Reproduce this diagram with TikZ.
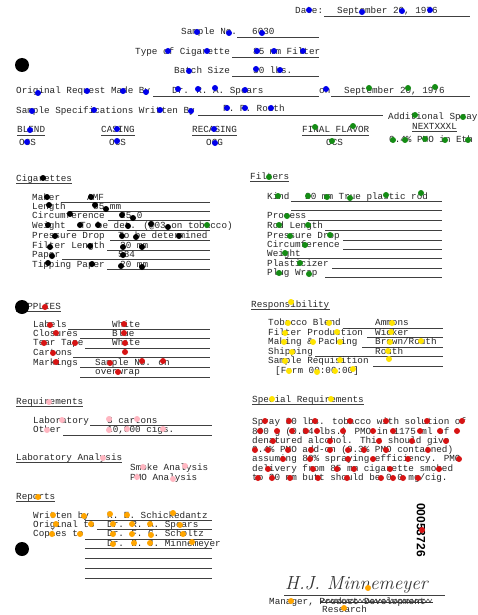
\documentclass[tikz,border=0pt]{standalone}
\usepackage{fontspec}
\usepackage{tikz}
\newfontfamily\typewr{Liberation Mono}
\newfontfamily\stampfont{Liberation Sans}
\definecolor{dotblue}{RGB}{0,0,235}
\definecolor{dotgreen}{RGB}{20,140,20}
\definecolor{dotred}{RGB}{215,20,20}
\definecolor{dotyellow}{RGB}{255,228,0}
\definecolor{dotpink}{RGB}{255,182,193}
\definecolor{dotorange}{RGB}{255,165,0}

\begin{document}
\begin{tikzpicture}[x=1pt,y=-1pt,
    txt/.style={anchor=base west,inner sep=0pt,text=black!85,font=\typewr\fontsize{9.3}{10}\selectfont},
    uline/.style={line width=0.6pt,black!75}]
            \clip (0,0) rectangle (477,615);
            \fill[white] (0,0) rectangle (477,615);

            % Heading block
            \draw (295,14) node [txt] (date) {Date:};%
            \draw (337,14) node [txt] (dateval) {September 20, 1976};%
            \draw [uline] (324,16.5) -- (470,16.5);%
            \draw (181,35) node [txt] (sampno) {Sample No.};%
            \draw (252,35) node [txt] (sampval) {6030};%
            \draw [uline] (237,37.5) -- (319,37.5);%
            \draw (135,54.5) node [txt] (cigtype) {Type of Cigarette};%
            \draw (253,54.5) node [txt] (cigval) {85 mm Filter};%
            \draw [uline] (232,57) -- (319,57);%
            \draw (174,73.5) node [txt] (batch) {Batch Size};%
            \draw (253,73.5) node [txt] (batchval) {30 lbs.};%
            \draw [uline] (232,76) -- (319,76);%
            \draw (16,93.5) node [txt] (origreq) {Original Request Made By};%
            \draw (172,93.5) node [txt] (origby) {Dr. R. A. Spears};%
            \draw [uline] (153,96) -- (319,96);%
            \draw (319,93.5) node [txt] (origon) {on};%
            \draw (344,93.5) node [txt] (origdate) {September 20, 1976};%
            \draw [uline] (331,96) -- (470,96);%
            \draw (16,113.5) node [txt] (specby) {Sample Specifications Written By};%
            \draw (223,111) node [txt] (specval) {R. R. Routh};%
            \draw [uline] (198,115.5) -- (383,115.5);%

            % Additional spray
            \draw (388,119.5) node [txt] (addspray) {Additional Spray};%
            \draw (412,129.5) node [txt] (addxx) {NEXTXXXL};%
            \draw [uline] ([yshift=-2pt]addxx.base west) -- ([yshift=-2pt]addxx.base east);%
            \draw (389,142.5) node [txt] (addsol) {0.4\% PMO in Eth};%

            % Blend, casing, flavor
            \draw (17,132.5) node [txt] (blend) {BLEND};%
            \draw (19,145) node [txt] (blendv) {OCS};%
            \draw (101,132.5) node [txt] (casing) {CASING};%
            \draw (109,145) node [txt] (casingv) {OCS};%
            \draw (192,132.5) node [txt] (recasing) {RECASING};%
            \draw (206,145) node [txt] (recasingv) {OCG};%
            \draw (302,132.5) node [txt] (flavor) {FINAL FLAVOR};%
            \draw (326,145) node [txt] (flavorv) {OCS};%
            \foreach \n in {blend,casing,recasing,flavor}
              \draw [uline] ([yshift=-2.5pt]\n.base west) -- ([yshift=-2.5pt]\n.base east);%

            % Cigarettes
            \draw (16,181) node [txt] (cigs) {Cigarettes};%
            \draw [uline] ([yshift=-2.5pt]cigs.base west) -- ([yshift=-2.5pt]cigs.base east);%
            \draw (32,200) node [txt] (maker) {Maker};%
            \draw (87,200) node [txt] (makerv) {AMF};%
            \draw [uline] (61,202.5) -- (210,202.5);%
            \draw (32,209) node [txt] (length) {Length};%
            \draw (93,209) node [txt] (lengthv) {85 mm};%
            \draw [uline] (70,211.5) -- (210,211.5);%
            \draw (32,218) node [txt] (circ) {Circumference};%
            \draw (120,218) node [txt] (circv) {25.0};%
            \draw [uline] (108,220.5) -- (210,220.5);%
            \draw (32,228) node [txt] (weight) {Weight};%
            \draw (80,228) node [txt] (weightv) {To be det. (@03 on tobacco)};%
            \draw [uline] (67,230.5) -- (210,230.5);%
            \draw (32,238) node [txt] (pdrop) {Pressure Drop};%
            \draw (118,238) node [txt] (pdropv) {To be determined};%
            \draw [uline] (110,240.5) -- (210,240.5);%
            \draw (32,248) node [txt] (flen) {Filter Length};%
            \draw (120,248) node [txt] (flenv) {20 mm};%
            \draw [uline] (107,250.5) -- (210,250.5);%
            \draw (32,257) node [txt] (paper) {Paper};%
            \draw (118,257) node [txt] (paperv) {584};%
            \draw [uline] (62,259.5) -- (210,259.5);%
            \draw (32,267) node [txt] (tipping) {Tipping Paper};%
            \draw (120,267) node [txt] (tippingv) {20 mm};%
            \draw [uline] (107,269.5) -- (210,269.5);%

            % Filters
            \draw (250,179) node [txt] (filters) {Filters};%
            \draw [uline] ([yshift=-2.5pt]filters.base west) -- ([yshift=-2.5pt]filters.base east);%
            \draw (267,199) node [txt] (kind) {Kind};%
            \draw (305,199) node [txt] (kindv) {20 mm True plastic rod};%
            \draw [uline] (291,201.5) -- (442,201.5);%
            \draw [uline] (291,210.5) -- (442,210.5);%
            \draw (267,218.5) node [txt] (process) {Process};%
            \draw [uline] (308,220.5) -- (442,220.5);%
            \draw (267,228) node [txt] (rodlen) {Rod Length};%
            \draw [uline] (325,230) -- (442,230);%
            \draw (267,238) node [txt] (fpdrop) {Pressure Drop};%
            \draw [uline] (343,240) -- (442,240);%
            \draw (267,247) node [txt] (fcirc) {Circumference};%
            \draw [uline] (343,249) -- (442,249);%
            \draw (267,256.5) node [txt] (fweight) {Weight};%
            \draw [uline] (285,258.5) -- (442,258.5);%
            \draw (267,266) node [txt] (plast) {Plasticizer};%
            \draw [uline] (332,268) -- (442,268);%
            \draw (267,275.5) node [txt] (plug) {Plug Wrap};%
            \draw [uline] (325,277.5) -- (442,277.5);%

            % Supplies
            \draw (16,309) node [txt] (supplies) {SUPPLIES};%
            \draw [uline] ([yshift=-2.5pt]supplies.base west) -- ([yshift=-2.5pt]supplies.base east);%
            \draw (33,327) node [txt] (labels) {Labels};%
            \draw (112,327) node [txt] (labelsv) {White};%
            \draw [uline] (68,329.5) -- (210,329.5);%
            \draw (33,336) node [txt] (closures) {Closures};%
            \draw (112,336) node [txt] (closuresv) {Blue};%
            \draw [uline] (80,338.5) -- (210,338.5);%
            \draw (33,345.5) node [txt] (tear) {Tear Tape};%
            \draw (112,345.5) node [txt] (tearv) {White};%
            \draw [uline] (85,348) -- (210,348);%
            \draw (33,355) node [txt] (cartons) {Cartons};%
            \draw [uline] (73,357.5) -- (210,357.5);%
            \draw (33,365) node [txt] (markings) {Markings};%
            \draw (95,365) node [txt] (markingsv) {Sample No. on};%
            \draw [uline] (80,367.5) -- (210,367.5);%
            \draw (95,374.5) node [txt] (overwrap) {overwrap};%
            \draw [uline] (80,377.5) -- (210,377.5);%

            % Responsibility
            \draw (251,307) node [txt] (resp) {Responsibility};%
            \draw [uline] ([yshift=-2.5pt]resp.base west) -- ([yshift=-2.5pt]resp.base east);%
            \draw (268,325.5) node [txt] (tobblend) {Tobacco Blend};%
            \draw (375,325.5) node [txt] (tobblendv) {Ammons};%
            \draw [uline] (343,328) -- (443,328);%
            \draw (268,335) node [txt] (filprod) {Filter Production};%
            \draw (375,335) node [txt] (filprodv) {Wicker};%
            \draw [uline] (367,337.5) -- (443,337.5);%
            \draw (268,344.5) node [txt] (making) {Making \& Packing};%
            \draw (375,344.5) node [txt] (makingv) {Brown/Routh};%
            \draw [uline] (362,347) -- (443,347);%
            \draw (268,354) node [txt] (shipping) {Shipping};%
            \draw (375,354) node [txt] (shippingv) {Routh};%
            \draw [uline] (315,356.5) -- (443,356.5);%
            \draw (268,363.5) node [txt] (sampreq) {Sample Requisition};%
            \draw [uline] (373,366) -- (443,366);%
            \draw (275,373.5) node [txt] (form) {[Form 00:00:00]};%

            % Requirements
            \draw (16,404) node [txt] (reqs) {Requirements};%
            \draw [uline] ([yshift=-2.5pt]reqs.base west) -- ([yshift=-2.5pt]reqs.base east);%
            \draw (33,423) node [txt] (lab) {Laboratory};%
            \draw (107,423) node [txt] (labv) {3 cartons};%
            \draw [uline] (90,425.5) -- (212,425.5);%
            \draw (33,432.5) node [txt] (other) {Other};%
            \draw (107,432.5) node [txt] (otherv) {10,000 cigs.};%
            \draw [uline] (63,435) -- (212,435);%
            \draw (16,460) node [txt] (labana) {Laboratory Analysis};%
            \draw [uline] ([yshift=-2.5pt]labana.base west) -- ([yshift=-2.5pt]labana.base east);%
            \draw (130,470) node [txt] (smoke) {Smoke Analysis};%
            \draw (130,480) node [txt] (pmo) {PMO Analysis};%

            % Special requirements
            \draw (252,402) node [txt] (special) {Special Requirements};%
            \draw [uline] ([yshift=-2.5pt]special.base west) -- ([yshift=-2.5pt]special.base east);%
            \draw (252,424) node [txt] (sp1) {Spray 30 lbs. tobacco with solution of};%
            \draw (252,434) node [txt] (sp2) {800 g (0.04 lbs.) PMO in 1175 ml of};%
            \draw (252,443.5) node [txt] (sp3) {denatured alcohol.  This should give};%
            \draw (252,452.5) node [txt] (sp4) {0.4\% PMO add-on (0.3\% PMO contained)};%
            \draw (252,461.5) node [txt] (sp5) {assuming 80\% spraying efficiency.  PMO};%
            \draw (252,471) node [txt] (sp6) {delivery from 85 mm cigarette smoked};%
            \draw (252,480.5) node [txt] (sp7) {to 30 mm butt should be 0.0 mg/cig.};%

            % Reports
            \draw (16,499) node [txt] (reports) {Reports};%
            \draw [uline] ([yshift=-2.5pt]reports.base west) -- ([yshift=-2.5pt]reports.base east);%
            \draw (33,518) node [txt] (written) {Written by};%
            \draw (107,518) node [txt] (writtenv) {R. E. Schickedantz};%
            \draw [uline] (85,520.5) -- (212,520.5);%
            \draw (33,527) node [txt] (orig) {Original to};%
            \draw (107,527) node [txt] (origv) {Dr. R. A. Spears};%
            \draw [uline] (97,529.5) -- (212,529.5);%
            \draw (33,536.5) node [txt] (copies) {Copies to};%
            \draw (107,536.5) node [txt] (copy1) {Dr. F. G. Scholtz};%
            \draw [uline] (85,539) -- (212,539);%
            \draw (107,546) node [txt] (copy2) {Dr. H. J. Minnemeyer};%
            \draw [uline] (85,548.5) -- (212,548.5);%
            \foreach \yy in {558.5,568,578}
              \draw [uline] (85,\yy) -- (212,\yy);%

            % Bates number
            \draw (421,530) node [rotate=-90,inner sep=0pt,font=\stampfont\bfseries\fontsize{12}{12}\selectfont] (bates) {00053726};%

            % Signature
            \draw (285,589) node [anchor=base west,inner sep=0pt,font=\itshape\fontsize{19}{20}\selectfont,text=black!80] (sig) {H.J. Minnemeyer};%
            \draw [uline] (284,595) -- (445,595);%
            \draw (269,604) node [txt] (manager) {Manager, Product Development};%
            % typed-over strike
            \draw [black!80,line width=0.5pt] (320,599) \foreach \i in {1,...,28} {-- ++(2,3) -- ++(2,-3)};%
            \draw [black!80,line width=0.5pt] (320,602) -- (433,602);%
            \draw (322,612) node [txt] (research) {Research};%

            % Marking dots
            \foreach \p in {(309,10),(362,12),(402,11),(430,10),(197,32),(229,33),(262,33),
                (168,51),(207,51),(257,51),(274,51),(303,51),(189,71),(256,69),(280,70),
                (38,93),(87,91),(123,91),(146,92),(178,89),(198,89),(215,88),(245,90),(326,89),
                (32,111),(94,110),(160,110),(191,111),(227,108),(245,108),(271,108),
                (30,130),(117,129),(214,129),(27,142),(117,141),(215,143)}
              \fill[dotblue] \p circle (3pt);%
            \foreach \p in {(369,88),(408,88),(435,87),(415,115),(463,117),(315,127),(353,126),
                (332,141),(393,140),(405,140),(425,139),(445,140),(468,140),(207,225),
                (269,177),(278,196),(308,196),(327,197),(350,198),(386,195),(421,193),
                (287,216),(279,225),(308,225),(290,236),(330,235),(305,245),(285,253),
                (300,263),(279,273),(309,274)}
              \fill[dotgreen] \p circle (3pt);%
            \foreach \p in {(43,178),(47,197),(91,197),(49,205),(95,205),(106,209),(70,214),
                (122,215),(133,218),(48,225),(80,225),(98,225),(128,226),(151,224),(168,227),
                (55,236),(122,236),(136,237),(179,236),(50,247),(90,246),(123,247),(142,247),
                (52,256),(123,255),(48,263),(92,264),(121,266),(142,267)}
              \fill[black] \p circle (3pt);%
            \foreach \p in {(22,65),(22,307),(22,549)}
              \fill[black] \p circle (7pt);%
            \foreach \p in {(45,307),(50,325),(124,324),(56,333),(124,333),(44,343),(75,343),
                (125,343),(53,353),(125,352),(56,362),(110,363),(142,361),(163,361),(118,372),
                (265,421),(289,421),(315,421),(350,421),(386,421),(427,421),(462,421),
                (260,431),(277,431),(292,431),(306,431),(317,431),(343,431),(373,431),(393,431),
                (420,431),(440,431),(457,431),(273,441),(330,441),(379,441),(412,441),(446,441),
                (255,450),(268,450),(288,450),(311,450),(330,450),(348,450),(364,450),(386,450),
                (428,450),(283,459),(310,459),(348,459),(373,459),(408,459),(459,459),
                (268,469),(313,469),(337,469),(354,469),(390,469),(439,469),
                (258,478),(272,478),(290,478),(318,478),(347,478),(381,478),(393,478),
                (403,478),(418,478),(422,530)}
              \fill[dotred] \p circle (3pt);%
            \foreach \p in {(291,302),(288,323),(329,323),(392,323),(285,333),(337,332),
                (391,332),(284,342),(313,342),(340,342),(390,342),(421,341),(292,352),
                (388,351),(285,361),(340,360),(389,359),(289,371),(317,372),(335,371),
                (353,369),(272,399),(331,399)}
              \fill[dotyellow] \p circle (3pt);%
            \foreach \p in {(49,402),(62,420),(109,419),(137,419),(47,430),(109,430),(127,429),
                (163,429),(103,458),(143,467),(185,466),(137,477),(173,479)}
              \fill[dotpink] \p circle (3pt);%
            \foreach \p in {(38,497),(53,515),(84,516),(110,514),(127,515),(173,513),(56,524),
                (91,524),(113,524),(132,524),(150,524),(180,525),(52,534),(80,534),(113,534),
                (132,534),(151,535),(183,534),(113,544),(134,543),(150,543),(192,542),
                (368,588),(291,601),(344,608)}
              \fill[dotorange] \p circle (3pt);%
        \end{tikzpicture}
\end{document}
